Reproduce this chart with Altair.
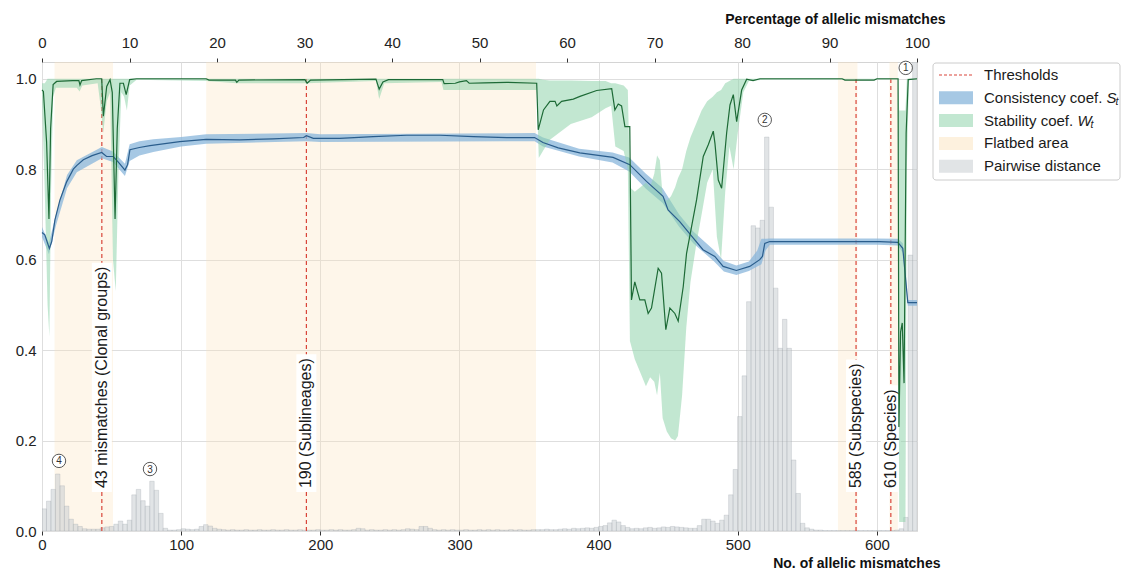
import altair as alt
import pandas as pd

# ---------------- layout constants ----------------
X_MAX = 628.8          # no. of loci (100 %)
Y_MAX = 1.037
PLOT_W = 875
PLOT_H = 469
FONT = "Liberation Sans"

# ---------------- axis ticks ----------------
mismatch_ticks = [0, 100, 200, 300, 400, 500, 600]
percent_ticks = [0, 10, 20, 30, 40, 50, 60, 70, 80, 90, 100]
y_ticks = [0.0, 0.2, 0.4, 0.6, 0.8, 1.0]

# ---------------- consistency coefficient S_t (mean line) ----------------
cons_line = [
    (0, 0.66), (2, 0.655), (5.3, 0.625), (7, 0.64), (9.3, 0.688), (12.9, 0.732),
    (17.7, 0.772), (22.5, 0.8), (24.9, 0.808), (29.7, 0.821), (36, 0.83), (42.9, 0.837),
    (46.4, 0.828), (51.2, 0.828), (55, 0.815), (59.6, 0.798), (61.5, 0.81), (63.2, 0.843),
    (70, 0.848), (77.6, 0.852), (99, 0.861), (118, 0.866), (142, 0.865), (166, 0.867),
    (188, 0.87), (190, 0.874), (195, 0.868), (214, 0.868), (238, 0.872), (262, 0.875),
    (286, 0.875), (310, 0.872), (334, 0.87), (354, 0.87), (360, 0.859), (371, 0.847),
    (386.5, 0.836), (410.4, 0.826), (422.4, 0.81), (434.4, 0.773), (446.3, 0.74),
    (449.9, 0.71), (458.3, 0.684), (467.9, 0.648), (475, 0.622), (483.5, 0.607),
    (489.5, 0.585), (499, 0.576), (508.6, 0.585), (515.8, 0.6), (517.7, 0.607),
    (519.4, 0.636), (523, 0.64), (573, 0.64), (602, 0.64), (615, 0.638), (618.6, 0.625),
    (622.2, 0.505), (628.8, 0.505),
]
# (x, lower, upper)
cons_band = [
    (0, 0.65, 0.672), (5, 0.612, 0.637), (10, 0.675, 0.7), (18, 0.758, 0.787),
    (25, 0.793, 0.82), (43, 0.824, 0.849), (51, 0.816, 0.839), (59.6, 0.785, 0.812),
    (63, 0.818, 0.855), (70, 0.83, 0.862), (80, 0.838, 0.866), (100, 0.85, 0.871),
    (118, 0.856, 0.877), (190, 0.862, 0.88), (200, 0.86, 0.877), (354, 0.862, 0.88),
    (360, 0.85, 0.87), (386, 0.828, 0.845), (410, 0.815, 0.837), (422, 0.795, 0.826),
    (434, 0.757, 0.79), (446, 0.725, 0.758), (458, 0.672, 0.699), (468, 0.636, 0.662),
    (483, 0.596, 0.621), (490, 0.574, 0.597), (499, 0.566, 0.587), (508, 0.575, 0.596),
    (514, 0.585, 0.62), (517, 0.59, 0.646), (520, 0.62, 0.646), (523, 0.633, 0.647),
    (600, 0.633, 0.647), (615, 0.631, 0.646), (618.6, 0.615, 0.636), (622.2, 0.498, 0.511),
    (628.8, 0.498, 0.511),
]

# ---------------- stability coefficient W_t (mean line) ----------------
stab_line = [
    (0, 0.975), (1, 0.972), (3.3, 0.86), (5, 0.69), (6.2, 0.89), (8, 0.987), (10.5, 0.994),
    (22, 0.996), (26.5, 0.996), (27.3, 0.986), (28.5, 0.996), (39, 1.0), (42.9, 1.0),
    (44.1, 0.917), (46.5, 0.983), (48.9, 0.998), (50.5, 0.97), (52.5, 0.69), (54.1, 0.89),
    (56, 0.99), (58.5, 0.99), (60.5, 0.965), (63, 0.998), (68, 1.0), (118, 1.0),
    (120, 0.997), (139, 0.997), (140, 0.992), (141.5, 0.997), (189, 0.998), (190.5, 0.99),
    (193, 0.997), (240, 0.999), (242.3, 0.977), (245, 0.993), (249, 0.998), (288, 0.998),
    (289, 0.989), (297, 0.99), (300, 0.993), (305, 0.996), (307, 0.99), (318, 0.991),
    (334, 0.992), (355.5, 0.99), (356.6, 0.887), (360.4, 0.931), (365, 0.95), (368.7, 0.95),
    (370, 0.94), (373.4, 0.95), (381.8, 0.955), (386.6, 0.961), (398.6, 0.974),
    (409.4, 0.978), (411.7, 0.931), (414.1, 0.944), (416.5, 0.94), (418.9, 0.894),
    (422.4, 0.894), (423.6, 0.511), (426, 0.551), (429.6, 0.511), (433.2, 0.511),
    (435.6, 0.481), (438, 0.493), (442.8, 0.581), (445.2, 0.57), (448.3, 0.445),
    (451.2, 0.493), (454.8, 0.481), (457.2, 0.464), (460.8, 0.54), (463.2, 0.614),
    (466.8, 0.673), (470.4, 0.732), (475.2, 0.828), (478.8, 0.854), (482.4, 0.884),
    (483.6, 0.857), (486, 0.776), (488.4, 0.758), (492, 0.88), (494.4, 0.942),
    (496.8, 0.965), (499.2, 0.905), (502.8, 0.975), (506.4, 0.999), (511, 0.996),
    (516, 1.0), (575, 1.0), (577, 0.997), (598, 0.997), (600, 1.0), (615.2, 1.0),
    (615.8, 0.23), (617, 0.44), (618.2, 0.46), (619.5, 0.327), (621, 0.88),
    (622.5, 0.998), (628.8, 1.0),
]
# (x, lower, upper)
stab_band = [
    (0, 0.95, 0.99), (2, 0.75, 0.99), (4, 0.5, 1.0), (5.3, 0.43, 1.0), (6.5, 0.75, 1.0),
    (8, 0.96, 1.0), (10, 0.98, 1.0), (25, 0.98, 1.0), (27, 0.972, 1.0), (29, 0.985, 1.0),
    (40, 0.99, 1.0), (42.5, 0.93, 1.0), (44, 0.88, 1.0), (46.5, 0.95, 1.0), (49, 0.97, 1.0),
    (51, 0.6, 1.0), (53, 0.53, 1.0), (55, 0.8, 1.0), (57, 0.97, 1.0), (59, 0.96, 1.0),
    (61, 0.93, 1.0), (63, 0.985, 1.0), (68, 0.998, 1.0), (118, 0.995, 1.0),
    (140, 0.99, 1.0), (190, 0.99, 1.0), (240, 0.995, 1.0), (242.3, 0.955, 1.0),
    (246, 0.99, 1.0), (287, 0.993, 1.0), (288.5, 0.975, 1.0), (355.5, 0.975, 1.0),
    (357, 0.825, 1.0), (360, 0.84, 0.998), (365, 0.865, 0.996), (380, 0.9, 0.996),
    (395, 0.915, 0.995), (405, 0.935, 0.995), (409, 0.94, 0.99), (412, 0.85, 0.99),
    (418, 0.84, 0.985), (421, 0.8, 0.975), (422.5, 0.42, 0.76), (426, 0.38, 0.75),
    (430, 0.35, 0.76), (434, 0.32, 0.77), (437, 0.34, 0.76), (440, 0.33, 0.79),
    (442, 0.3, 0.83), (444, 0.35, 0.82), (446, 0.25, 0.74), (449, 0.22, 0.73),
    (452, 0.205, 0.74), (455, 0.2, 0.76), (457, 0.21, 0.78), (460, 0.3, 0.8),
    (463, 0.45, 0.84), (466, 0.55, 0.87), (470, 0.63, 0.9), (474, 0.7, 0.93),
    (478, 0.77, 0.95), (482, 0.8, 0.96), (485, 0.65, 0.97), (488, 0.6, 0.975),
    (491, 0.75, 0.99), (494, 0.85, 0.995), (497, 0.8, 1.0), (500, 0.88, 1.0),
    (504, 0.97, 1.0), (508, 0.995, 1.0), (520, 0.998, 1.0), (615, 0.998, 1.0),
    (616, 0.02, 0.93), (620.5, 0.02, 0.93), (621.5, 0.8, 1.0), (623, 0.998, 1.0),
    (628.8, 0.998, 1.0),
]

# ---------------- pairwise distance histogram ----------------
hist_bin_width = 3.225
hist_heights = [
    0.049, 0.066, 0.092, 0.126, 0.100, 0.055, 0.026, 0.015, 0.010, 0.005,
    0.004, 0.004, 0.004, 0.007, 0.009, 0.010, 0.015, 0.022, 0.015, 0.024,
    0.080, 0.092, 0.067, 0.055, 0.110, 0.090, 0.039, 0.006, 0.002, 0.002,
    0.003, 0.005, 0.004, 0.003, 0.004, 0.010, 0.014, 0.011, 0.006, 0.004,
    0.003, 0.002, 0.003, 0.002, 0.002, 0.003, 0.002, 0.002, 0.003, 0.002,
    0.002, 0.003, 0.002, 0.002, 0.003, 0.002, 0.002, 0.003, 0.002, 0.002,
    0.002, 0.003, 0.002, 0.002, 0.003, 0.002, 0.003, 0.002, 0.002, 0.003,
    0.006, 0.005, 0.002, 0.003, 0.002, 0.002, 0.003, 0.002, 0.003, 0.002,
    0.003, 0.005, 0.004, 0.003, 0.010, 0.010, 0.006, 0.003, 0.002, 0.003,
    0.002, 0.003, 0.002, 0.002, 0.003, 0.002, 0.002, 0.003, 0.002, 0.003,
    0.002, 0.003, 0.002, 0.002, 0.003, 0.002, 0.003, 0.002, 0.002, 0.003,
    0.003, 0.003, 0.004, 0.003, 0.003, 0.004, 0.005, 0.004, 0.006, 0.005,
    0.006, 0.007, 0.006, 0.008, 0.010, 0.012, 0.018, 0.024, 0.020, 0.012,
    0.008, 0.005, 0.006, 0.005, 0.007, 0.008, 0.006, 0.007, 0.009, 0.008,
    0.010, 0.009, 0.008, 0.007, 0.006, 0.006, 0.012, 0.026, 0.026, 0.022,
    0.017, 0.024, 0.035, 0.080, 0.136, 0.253, 0.343, 0.507, 0.675, 0.670,
    0.687, 0.871, 0.716, 0.537, 0.404, 0.468, 0.404, 0.157, 0.083, 0.017,
    0.007, 0.004, 0.002, 0.002, 0.001, 0.001, 0.001, 0.001, 0.001, 0.001,
    0.001, 0.001, 0.001, 0.001, 0.001, 0.001, 0.001, 0.001, 0.001, 0.001,
    0.002, 0.005, 0.030, 0.610, 1.100,
]

# ---------------- flatbed areas ----------------
flatbed_start = [9, 118, 572, 609]
flatbed_end = [51, 355, 586, 615]

# ---------------- thresholds ----------------
thr_values = [43, 190, 585, 610]
thr_labels = ["43 mismatches (Clonal groups)", "190 (Sublineages)",
              "585 (Subspecies)", "610 (Species)"]
thr_label_start = 0.095

# ---------------- circled cluster markers ----------------
marker_labels = ["1", "2", "3", "4"]
marker_x = [620.7, 519.4, 77.6, 12.2]
marker_y = [1.024, 0.909, 0.137, 0.155]

# ---------------- legend ----------------
legend_labels = ["Thresholds", "Consistency coef.", "Stability coef.",
                 "Flatbed area", "Pairwise distance"]
legend_math = ["", "S", "W", "", ""]

# ---------------- colours ----------------
FLAT_C, FLAT_O = "#fbe3bd", 0.32
HIST_C, HIST_O = "#c9ced2", 0.55
BLUE_BAND_C, BLUE_BAND_O = "#88b6db", 0.75
GREEN_BAND_C, GREEN_BAND_O = "#8fd4ac", 0.55
BLUE_LINE = "#2a5d8c"
GREEN_LINE = "#1d6a36"
RED = "#d9453a"

PX_PER_X = PLOT_W / X_MAX
PX_PER_Y = PLOT_H / Y_MAX

CHAR_W = {" ": .278, "(": .333, ")": .333, "i": .222, "l": .222, "m": .833, "r": .333,
          "s": .5, "c": .5, "t": .278, "C": .722, "S": .667, "f": .278, ".": .278,
          "y": .5, "w": .722, "P": .667, "T": .611, "W": .944, "k": .5}


def text_px(s, size):
    return sum(CHAR_W.get(ch, .556) for ch in s) * size


# ---------------- data frames ----------------
df_cons_line = pd.DataFrame(cons_line, columns=["x", "y"])
df_cons_band = pd.DataFrame(cons_band, columns=["x", "lo", "hi"])
df_stab_line = pd.DataFrame(stab_line, columns=["x", "y"])
df_stab_band = pd.DataFrame(stab_band, columns=["x", "lo", "hi"])
df_hist = pd.DataFrame({
    "b0": [i * hist_bin_width for i in range(len(hist_heights))],
    "b1": [(i + 1) * hist_bin_width for i in range(len(hist_heights))],
    "h": hist_heights,
})
df_flat = pd.DataFrame({"start": flatbed_start, "end": flatbed_end,
                        "y0": 0.0, "y1": Y_MAX})
THR_FS = 16
df_thr = pd.DataFrame({"t": thr_values, "label": thr_labels})
df_thr["ys"] = thr_label_start
df_thr["y0"] = 0.0
df_thr["y1"] = 1.0
df_thr["bx0"] = df_thr["t"] - 10 / PX_PER_X
df_thr["bx1"] = df_thr["t"] + 10 / PX_PER_X
df_thr["by0"] = thr_label_start - 4 / PX_PER_Y
df_thr["by1"] = [thr_label_start + (text_px(s, THR_FS) + 4) / PX_PER_Y for s in thr_labels]
df_mark = pd.DataFrame({"x": marker_x, "y": marker_y, "label": marker_labels})

xs = alt.Scale(domain=[0, X_MAX], nice=False, zero=False)
ys = alt.Scale(domain=[0, Y_MAX], nice=False, zero=False)

x_axis = alt.Axis(values=mismatch_ticks, grid=True, ticks=True, tickSize=4,
                  tickColor="#333333", labelPadding=2, labelFlush=False,
                  title="No. of allelic mismatches", titleFontWeight="bold",
                  titleFontSize=14, titleX=898, titleY=36, titleAlign="right",
                  titleBaseline="alphabetic")
y_axis = alt.Axis(values=y_ticks, format=".1f", grid=True, ticks=False,
                  labelPadding=6, title=None)


def X(field):
    return alt.X(field, type="quantitative", scale=xs, axis=x_axis)


def Y(field):
    return alt.Y(field, type="quantitative", scale=ys, axis=y_axis)


flat = alt.Chart(df_flat).mark_rect(color=FLAT_C, opacity=FLAT_O).encode(
    x=X("start"), x2="end:Q", y=Y("y0"), y2="y1:Q")

hist = alt.Chart(df_hist).mark_rect(
    fill=HIST_C, fillOpacity=HIST_O, stroke="#9aa3aa", strokeOpacity=0.45,
    strokeWidth=0.6, clip=True).encode(x=X("b0"), x2="b1:Q", y=Y("h"), y2=alt.datum(0))

thr_rule = alt.Chart(df_thr).mark_rule(color=RED, strokeDash=[4, 3], strokeWidth=1.2).encode(
    x=X("t"), y=Y("y0"), y2="y1:Q")

thr_box = alt.Chart(df_thr).mark_rect(color="white").encode(
    x=X("bx0"), x2="bx1:Q", y=Y("by0"), y2="by1:Q")

thr_text = alt.Chart(df_thr).mark_text(
    angle=270, align="left", baseline="middle", fontSize=THR_FS, color="#1a1a1a",
    font=FONT).encode(x=X("t"), y=Y("ys"), text="label:N")

cons_area = alt.Chart(df_cons_band).mark_area(color=BLUE_BAND_C, opacity=BLUE_BAND_O).encode(
    x=X("x"), y=Y("lo"), y2="hi:Q")
stab_area = alt.Chart(df_stab_band).mark_area(color=GREEN_BAND_C, opacity=GREEN_BAND_O).encode(
    x=X("x"), y=Y("lo"), y2="hi:Q")
cons_ln = alt.Chart(df_cons_line).mark_line(color=BLUE_LINE, strokeWidth=1.2).encode(
    x=X("x"), y=Y("y"))
stab_ln = alt.Chart(df_stab_line).mark_line(color=GREEN_LINE, strokeWidth=1.2).encode(
    x=X("x"), y=Y("y"))

mark_circ = alt.Chart(df_mark).mark_point(
    shape="circle", size=180, filled=True, fill="white", stroke="#444444",
    strokeWidth=0.9, opacity=1).encode(x=X("x"), y=Y("y"))
mark_txt = alt.Chart(df_mark).mark_text(
    fontSize=10, color="#333333", font=FONT, dy=0.5).encode(
    x=X("x"), y=Y("y"), text="label:N")

# ---------------- manual legend (outside plot, right) ----------------
one = pd.DataFrame({"a": [0]})
LEG_X0, LEG_X1 = 891, 1078
LEG_SYM0, LEG_SYM1 = 897, 931
LEG_TXT = 942
LEG_FS = 15
leg_layers = [
    alt.Chart(one).mark_rect(fill="white", stroke="#cccccc", strokeWidth=1,
                             cornerRadius=3).encode(
        x=alt.value(LEG_X0), x2=alt.value(LEG_X1), y=alt.value(1), y2=alt.value(118))
]
sym_styles = [None, (BLUE_BAND_C, BLUE_BAND_O), (GREEN_BAND_C, GREEN_BAND_O),
              (FLAT_C, 0.5), (HIST_C, HIST_O)]
for i, lab in enumerate(legend_labels):
    ry = 13 + 22.8 * i
    if sym_styles[i] is None:
        leg_layers.append(alt.Chart(one).mark_rule(
            color=RED, strokeDash=[3, 2], strokeWidth=1.2).encode(
            x=alt.value(LEG_SYM0), x2=alt.value(LEG_SYM1), y=alt.value(ry)))
    else:
        c, o = sym_styles[i]
        leg_layers.append(alt.Chart(one).mark_rect(color=c, opacity=o).encode(
            x=alt.value(LEG_SYM0), x2=alt.value(LEG_SYM1),
            y=alt.value(ry - 6.5), y2=alt.value(ry + 6.5)))
    leg_layers.append(alt.Chart(one).mark_text(
        text=lab, align="left", baseline="middle", fontSize=LEG_FS, color="#1a1a1a",
        font=FONT).encode(x=alt.value(LEG_TXT), y=alt.value(ry)))
    if legend_math[i]:
        sx = LEG_TXT + text_px(lab + " ", LEG_FS)
        leg_layers.append(alt.Chart(one).mark_text(
            text=legend_math[i], align="left", baseline="middle", fontSize=LEG_FS,
            fontStyle="italic", color="#1a1a1a", font=FONT).encode(
            x=alt.value(sx), y=alt.value(ry)))
        tx = sx + text_px(legend_math[i], LEG_FS) - 1
        leg_layers.append(alt.Chart(one).mark_text(
            text="t", align="left", baseline="middle", fontSize=10.5,
            fontStyle="italic", color="#1a1a1a", font=FONT).encode(
            x=alt.value(tx), y=alt.value(ry + 4)))

main = alt.layer(flat, hist, thr_rule, thr_box, thr_text, cons_area, stab_area,
                 cons_ln, stab_ln, mark_circ, mark_txt, *leg_layers)

# ---------------- top (percentage) axis ----------------
top_axis = alt.Axis(orient="top", values=percent_ticks, grid=False, ticks=True,
                    tickSize=4, tickColor="#333333", labelPadding=8, labelFlush=False,
                    title="Percentage of allelic mismatches", titleFontWeight="bold",
                    titleFontSize=14, titleX=903, titleY=-39, titleAlign="right",
                    titleBaseline="alphabetic")
top = alt.Chart(pd.DataFrame({"pct": percent_ticks})).mark_point(opacity=0).encode(
    x=alt.X("pct:Q", scale=alt.Scale(domain=[0, 100], nice=False), axis=top_axis),
    y=alt.value(0))

chart = alt.layer(main, top).resolve_scale(x="independent").properties(
    width=PLOT_W, height=PLOT_H,
    autosize=alt.AutoSizeParams(type="none"),
    padding={"left": 34, "top": 54, "right": 205, "bottom": 40},
).configure_view(stroke="#d4d4d4", strokeWidth=1).configure_axis(
    labelFont=FONT, titleFont=FONT, labelFontSize=15, labelColor="#222222",
    titleColor="#111111", gridColor="#dedede", gridWidth=1, domain=False,
).configure_text(font=FONT)

chart.save("out.html", embed_options={"renderer": "svg", "actions": False})
